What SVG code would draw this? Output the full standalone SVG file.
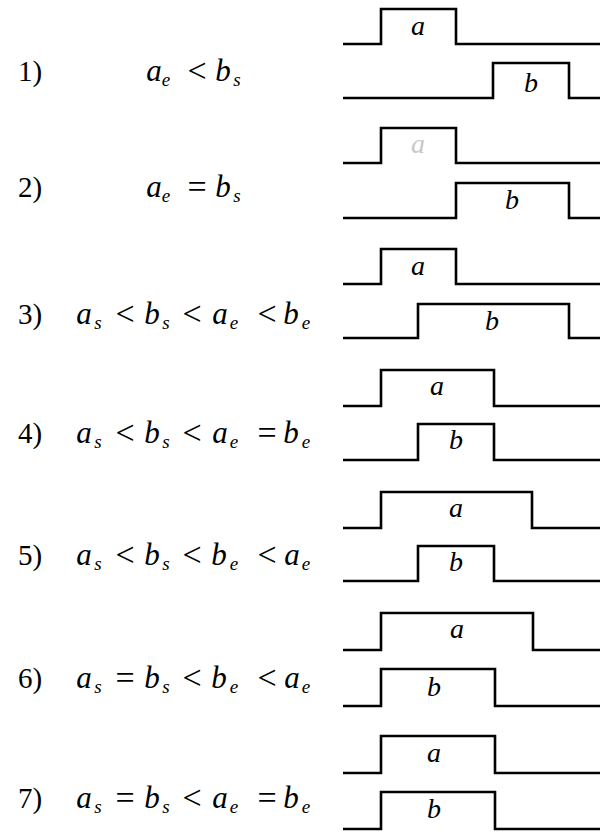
<svg xmlns="http://www.w3.org/2000/svg" width="601" height="832" viewBox="0 0 601 832">
<style>
  .bg{fill:#fff}
  .w{fill:none;stroke:#000;stroke-width:2.6;stroke-linejoin:miter}
  .num{font-family:"Liberation Serif","DejaVu Serif",serif;font-size:29px;fill:#000}
  .v{font-family:"Liberation Serif","DejaVu Serif",serif;font-style:italic;font-size:31px;fill:#000;text-anchor:middle}
  .sb{font-family:"Liberation Serif","DejaVu Serif",serif;font-style:italic;font-size:19px;fill:#000;text-anchor:middle}
  .r{font-family:"Liberation Serif","DejaVu Serif",serif;font-size:34px;fill:#000;text-anchor:middle}
  .pl{font-family:"Liberation Serif","DejaVu Serif",serif;font-style:italic;font-size:28px;fill:#000;text-anchor:middle}
</style>
<rect class="bg" x="0" y="0" width="601" height="832"/>

<g id="row1">
  <text class="num" x="18" y="81">1)</text>
  <text class="v" x="154" y="81">a</text><text class="sb" x="166" y="86">e</text>
  <text class="r" x="197" y="82">&lt;</text>
  <text class="v" x="223" y="81">b</text><text class="sb" x="237" y="86">s</text>
  <path class="w" d="M343 44 H381 V9 H456 V44 H600"/>
  <text class="pl" x="418" y="35">a</text>
  <path class="w" d="M343 98 H493 V63 H569 V98 H600"/>
  <text class="pl" x="531" y="92">b</text>
</g>

<g id="row2">
  <text class="num" x="18" y="197">2)</text>
  <text class="v" x="154" y="197">a</text><text class="sb" x="166" y="202">e</text>
  <text class="r" x="197" y="198">=</text>
  <text class="v" x="223" y="197">b</text><text class="sb" x="237" y="202">s</text>
  <path class="w" d="M343 163 H381 V128 H456 V163 H600"/>
  <text class="pl" x="418" y="153" style="fill:#c8c8c8">a</text>
  <path class="w" d="M343 218 H456 V183 H569 V218 H600"/>
  <text class="pl" x="512" y="209">b</text>
</g>

<g id="row3">
  <text class="num" x="18" y="324">3)</text>
  <text class="v" x="84" y="324">a</text><text class="sb" x="98" y="329">s</text>
  <text class="r" x="125" y="325">&lt;</text>
  <text class="v" x="152" y="324">b</text><text class="sb" x="166" y="329">s</text>
  <text class="r" x="192" y="325">&lt;</text>
  <text class="v" x="220" y="324">a</text><text class="sb" x="234" y="329">e</text>
  <text class="r" x="267" y="325">&lt;</text>
  <text class="v" x="291" y="324">b</text><text class="sb" x="306" y="329">e</text>
  <path class="w" d="M343 284 H381 V249 H456 V284 H600"/>
  <text class="pl" x="418" y="275">a</text>
  <path class="w" d="M343 338 H418 V304 H569 V338 H600"/>
  <text class="pl" x="492" y="330">b</text>
</g>

<g id="row4">
  <text class="num" x="18" y="443">4)</text>
  <text class="v" x="84" y="443">a</text><text class="sb" x="98" y="448">s</text>
  <text class="r" x="125" y="444">&lt;</text>
  <text class="v" x="152" y="443">b</text><text class="sb" x="166" y="448">s</text>
  <text class="r" x="192" y="444">&lt;</text>
  <text class="v" x="220" y="443">a</text><text class="sb" x="234" y="448">e</text>
  <text class="r" x="267" y="444">=</text>
  <text class="v" x="291" y="443">b</text><text class="sb" x="306" y="448">e</text>
  <path class="w" d="M343 406 H381 V370 H494 V406 H600"/>
  <text class="pl" x="437" y="395">a</text>
  <path class="w" d="M343 460 H418 V424 H494 V460 H600"/>
  <text class="pl" x="456" y="449">b</text>
</g>

<g id="row5">
  <text class="num" x="18" y="565">5)</text>
  <text class="v" x="84" y="565">a</text><text class="sb" x="98" y="570">s</text>
  <text class="r" x="125" y="566">&lt;</text>
  <text class="v" x="152" y="565">b</text><text class="sb" x="166" y="570">s</text>
  <text class="r" x="192" y="566">&lt;</text>
  <text class="v" x="219" y="565">b</text><text class="sb" x="234" y="570">e</text>
  <text class="r" x="267" y="566">&lt;</text>
  <text class="v" x="292" y="565">a</text><text class="sb" x="306" y="570">e</text>
  <path class="w" d="M343 528 H381 V492 H532 V528 H600"/>
  <text class="pl" x="456" y="517">a</text>
  <path class="w" d="M343 581 H418 V546 H494 V581 H600"/>
  <text class="pl" x="456" y="571">b</text>
</g>

<g id="row6">
  <text class="num" x="18" y="688">6)</text>
  <text class="v" x="84" y="688">a</text><text class="sb" x="98" y="693">s</text>
  <text class="r" x="125" y="689">=</text>
  <text class="v" x="152" y="688">b</text><text class="sb" x="166" y="693">s</text>
  <text class="r" x="192" y="689">&lt;</text>
  <text class="v" x="219" y="688">b</text><text class="sb" x="234" y="693">e</text>
  <text class="r" x="267" y="689">&lt;</text>
  <text class="v" x="292" y="688">a</text><text class="sb" x="306" y="693">e</text>
  <path class="w" d="M343 650 H381 V613 H533 V650 H600"/>
  <text class="pl" x="457" y="638">a</text>
  <path class="w" d="M343 706 H381 V669 H495 V706 H600"/>
  <text class="pl" x="434" y="696">b</text>
</g>

<g id="row7">
  <text class="num" x="18" y="808">7)</text>
  <text class="v" x="84" y="808">a</text><text class="sb" x="98" y="813">s</text>
  <text class="r" x="125" y="809">=</text>
  <text class="v" x="152" y="808">b</text><text class="sb" x="166" y="813">s</text>
  <text class="r" x="192" y="809">&lt;</text>
  <text class="v" x="220" y="808">a</text><text class="sb" x="234" y="813">e</text>
  <text class="r" x="267" y="809">=</text>
  <text class="v" x="291" y="808">b</text><text class="sb" x="306" y="813">e</text>
  <path class="w" d="M343 773 H381 V736 H495 V773 H600"/>
  <text class="pl" x="434" y="762">a</text>
  <path class="w" d="M343 829 H381 V792 H495 V829 H600"/>
  <text class="pl" x="434" y="818">b</text>
</g>

<g id="connectors"></g>
</svg>
